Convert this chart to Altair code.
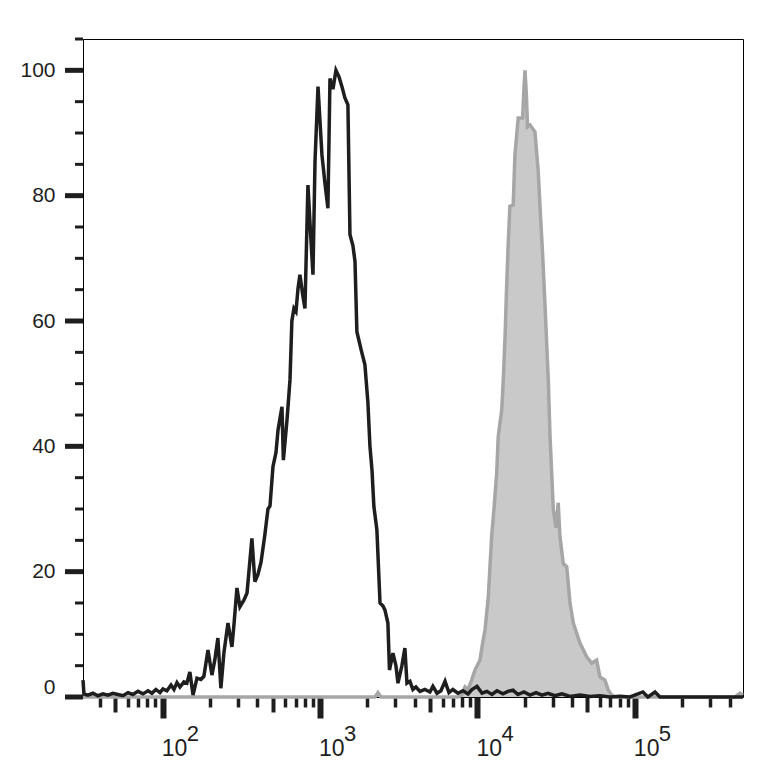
import altair as alt
import pandas as pd

# Black (open) histogram: log10 fluorescence intensity and % of max
black_log = [1.494, 1.500, 1.525, 1.557, 1.589, 1.621, 1.652, 1.684, 1.716, 1.748,
             1.780, 1.811, 1.843, 1.875, 1.907, 1.932, 1.957, 1.983, 2.002, 2.027,
             2.053, 2.072, 2.091, 2.110, 2.135, 2.154, 2.173, 2.193, 2.218, 2.243,
             2.262, 2.288, 2.313, 2.332, 2.351, 2.370, 2.389, 2.415, 2.440, 2.453,
             2.472, 2.491, 2.517, 2.536, 2.567, 2.586, 2.605, 2.625, 2.650, 2.669,
             2.682, 2.701, 2.720, 2.733, 2.758, 2.767, 2.790, 2.809, 2.821, 2.834,
             2.847, 2.860, 2.872, 2.891, 2.904, 2.923, 2.942, 2.955, 2.968, 2.987,
             3.012, 3.031, 3.050, 3.063, 3.082, 3.101, 3.120, 3.139, 3.158, 3.177,
             3.190, 3.209, 3.222, 3.234, 3.260, 3.285, 3.304, 3.317, 3.330, 3.342,
             3.361, 3.381, 3.400, 3.412, 3.431, 3.441, 3.463, 3.482, 3.495, 3.520,
             3.539, 3.552, 3.571, 3.590, 3.609, 3.635, 3.666, 3.698, 3.717, 3.743,
             3.768, 3.794, 3.819, 3.844, 3.876, 3.908, 3.940, 3.965, 3.997, 4.029,
             4.060, 4.092, 4.124, 4.162, 4.194, 4.226, 4.257, 4.295, 4.334, 4.372,
             4.410, 4.448, 4.492, 4.537, 4.588, 4.651, 4.715, 4.778, 4.842, 4.905,
             4.969, 5.051, 5.083, 5.128, 5.159, 5.287, 5.414, 5.541, 5.687]
black_val = [2.7, 0.5, 0.3, 0.6, 0.2, 0.5, 0.3, 0.6, 0.4, 0.2,
             0.7, 0.4, 0.9, 0.5, 1.0, 0.6, 1.2, 0.7, 1.3, 1.0,
             1.9, 1.2, 2.3, 1.6, 2.4, 2.2, 4.0, 0.3, 3.0, 2.8,
             3.3, 7.5, 3.5, 6.0, 9.4, 1.4, 7.0, 11.8, 8.0, 11.5,
             17.4, 14.4, 15.5, 16.6, 25.3, 18.4, 19.5, 21.5, 26, 30,
             30.5, 36.8, 39, 42.6, 46.3, 37.8, 44.2, 50.6, 60, 62,
             61.5, 65.2, 67.4, 64, 62, 81.7, 73, 67.4, 85.5, 97.4,
             86.5, 82, 78, 98.7, 97, 100, 99, 97.4, 95.6, 94.5,
             73.8, 72, 69.5, 58.3, 55.5, 53, 47, 40, 36.2, 30.4,
             26.7, 15, 14.5, 13.9, 11.8, 4.3, 7, 5, 2.2, 5,
             7.8, 2.2, 2.5, 1.2, 1.6, 0.9, 1.2, 0.8, 1.7, 0.6,
             1.0, 2.5, 0.7, 1.2, 0.6, 1.0, 0.5, 1.2, 1.7, 0.6,
             0.9, 0.4, 1.0, 0.5, 0.9, 1.1, 0.4, 0.8, 0.3, 0.7,
             0.3, 0.6, 0.2, 0.5, 0.1, 0.3, 0.1, 0.2, 0, 0.1,
             0, 0.8, 0, 0.8, 0, 0, 0, 0, 0]

# Grey (filled) histogram
gray_log = [1.494, 3.349, 3.368, 3.387, 3.441, 3.876, 3.900, 3.921, 3.940, 3.963,
            3.984, 4.016, 4.032, 4.048, 4.069, 4.090, 4.105, 4.122, 4.132, 4.154,
            4.164, 4.175, 4.185, 4.196, 4.206, 4.227, 4.238, 4.259, 4.287, 4.295,
            4.302, 4.311, 4.318, 4.334, 4.365, 4.386, 4.397, 4.414, 4.429, 4.443,
            4.450, 4.461, 4.482, 4.499, 4.513, 4.524, 4.545, 4.567, 4.588, 4.609,
            4.651, 4.694, 4.726, 4.757, 4.778, 4.810, 4.831, 4.853, 4.874, 5.636,
            5.668, 5.687]
gray_val = [0, 0, 0.7, 0, 0, 0, 0.3, 1.6, 1.2, 2.7,
            4.3, 5.9, 8.5, 10.7, 16, 25.6, 30, 35.7, 41.6, 45.8,
            50.6, 57.3, 65.2, 72.7, 78.3, 78.5, 86.5, 92.4, 92.4, 97,
            100, 96, 91, 91.3, 90.2, 83.9, 78.5, 70.6, 62.6, 54.6,
            50.6, 41.6, 29.9, 27, 31, 25.6, 21.3, 20.8, 15, 11.8,
            8.6, 6.4, 5.4, 5.9, 3.2, 2.7, 1.1, 0.3, 0, 0,
            0.6, 0.3]

y_major = [0, 20, 40, 60, 80, 100]
y_minor = [5, 10, 15, 25, 30, 35, 45, 50, 55, 65, 70, 75, 85, 90, 95, 105]
decades = [2, 3, 4, 5]
x_major = [100, 1000, 10000, 100000]
x_mid = [50, 500, 5000, 50000]
x_minor = [40, 60, 70, 80, 90, 200, 300, 400, 600, 700, 800, 900,
           2000, 3000, 4000, 6000, 7000, 8000, 9000,
           20000, 30000, 40000, 60000, 70000, 80000, 90000,
           200000, 300000, 400000]
x_range_log = [1.494, 5.687]

black_df = pd.DataFrame({"x": [10 ** v for v in black_log], "y": black_val})
gray_df = pd.DataFrame({"x": [10 ** v for v in gray_log], "y": gray_val})
dec_df = pd.DataFrame({"pos": [10 ** d for d in decades],
                       "base": ["10"] * len(decades),
                       "exp": [str(d) for d in decades]})
ymaj_df = pd.DataFrame({"y": y_major})
ymin_df = pd.DataFrame({"y": y_minor})

W, H = 660, 658
INK = "#1e1e1e"
FONT = "Liberation Sans"

xscale = alt.Scale(type="log", domain=[10 ** x_range_log[0], 10 ** x_range_log[1]], nice=False)
yscale = alt.Scale(domain=[0, 105], nice=False)


def xaxis(values, size, width):
    return alt.Axis(orient="bottom", values=values, tickSize=size, tickWidth=width,
                    tickColor=INK, tickOpacity=1, labels=False, domain=False,
                    grid=False, title="")


gray = alt.Chart(gray_df).mark_area(
    color="#c9c9c9", opacity=1, line={"color": "#a6a6a6", "strokeWidth": 3.5}
).encode(
    x=alt.X("x:Q", scale=xscale, axis=xaxis(x_major, 21, 6)),
    y=alt.Y("y:Q", scale=yscale,
            axis=alt.Axis(orient="left", values=y_major, ticks=False,
                          domainColor="#000000", domainWidth=1,
                          labelFontSize=21, labelFont=FONT, labelColor=INK,
                          labelPadding=28, labelFlush=True, grid=False, title="")),
)

black = alt.Chart(black_df).mark_line(color=INK, strokeWidth=3.5).encode(
    x=alt.X("x:Q", scale=xscale, axis=xaxis(x_mid, 15, 4)),
    y=alt.Y("y:Q", scale=yscale, axis=None),
)

minor = alt.Chart(black_df).mark_point(opacity=0).encode(
    x=alt.X("x:Q", scale=xscale, axis=xaxis(x_minor, 10, 3.5)),
    y=alt.Y("y:Q", scale=yscale, axis=None),
)

# y-axis tick marks (major every 20, minor every 5), placed by the y scale
ymaj_ticks = alt.Chart(ymaj_df).mark_rule(color=INK, strokeWidth=5).encode(
    y=alt.Y("y:Q", scale=yscale, axis=None),
    x=alt.value(-18), x2=alt.value(0),
)
ymin_ticks = alt.Chart(ymin_df).mark_rule(color=INK, strokeWidth=3).encode(
    y=alt.Y("y:Q", scale=yscale, axis=None),
    x=alt.value(-8), x2=alt.value(0),
)

base_txt = alt.Chart(dec_df).mark_text(
    align="left", baseline="alphabetic", fontSize=23, font=FONT, color=INK, dx=-1
).encode(
    x=alt.X("pos:Q", scale=xscale, axis=None),
    y=alt.value(H + 59),
    text="base:N",
)

exp_txt = alt.Chart(dec_df).mark_text(
    align="left", baseline="alphabetic", fontSize=22, font=FONT, color=INK, dx=24
).encode(
    x=alt.X("pos:Q", scale=xscale, axis=None),
    y=alt.value(H + 44),
    text="exp:N",
)

chart = alt.layer(gray, black, minor, ymaj_ticks, ymin_ticks, base_txt, exp_txt).resolve_axis(
    x="independent", y="independent"
).properties(
    width=W, height=H,
    autosize=alt.AutoSizeParams(type="none"),
    padding={"left": 75, "top": 31, "right": 20, "bottom": 80},
).configure_view(stroke="#000000", strokeWidth=1)

chart.save("out.html", embed_options={"renderer": "svg", "actions": False})
